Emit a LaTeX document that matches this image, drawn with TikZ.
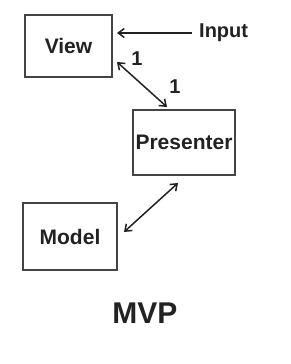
\documentclass[tikz,border=0pt]{standalone}
\usepackage{fontspec}
\setmainfont{Liberation Sans}
\usetikzlibrary{arrows.meta}
\definecolor{ink}{HTML}{222222}
\definecolor{edge}{HTML}{444444}
\tikzset{
  tipb/.tip={Straight Barb[length=6pt,width=9pt,line width=1.5pt]},
  boxnode/.style={draw=edge, line width=1.8pt, fill=white, inner sep=0pt, text=ink, font=\bfseries\fontsize{21}{24}\selectfont},
  conn/.style={draw=ink, line width=1.5pt, {tipb}-{tipb}},
  oneway/.style={draw=ink, line width=1.5pt, -{tipb}},
  lbl/.style={text=ink, font=\bfseries\fontsize{20}{22}\selectfont, inner sep=0pt}
}
\begin{document}
\begin{tikzpicture}[x=1pt,y=-1pt]
\useasboundingbox (0,0) rectangle (291,364);
\node[boxnode, minimum width=87pt, minimum height=62pt] (view) at (68.5,46) {View};
\node[boxnode, minimum width=102pt, minimum height=65pt] (pres) at (184,142.5) {Presenter};
\node[boxnode, minimum width=94pt, minimum height=67pt] (model) at (70,236.5) {Model};
\node[lbl, anchor=west] (input) at (199,33) {Input};
\node[lbl] (one1) at (137,59) {1};
\node[lbl] (one2) at (175,87) {1};
\node[text=ink, font=\bfseries\fontsize{30}{34}\selectfont, inner sep=0pt] (mvp) at (145,313) {MVP};
\coordinate (in1) at (192,33);
\coordinate (in2) at (117,33);
\coordinate (vp1) at (117,62);
\coordinate (vp2) at (167,107);
\coordinate (mp1) at (124,232);
\coordinate (mp2) at (178,183);
\draw[oneway] (in1) -- (in2);
\draw[conn] (vp1) -- (vp2);
\draw[conn] (mp1) -- (mp2);
\end{tikzpicture}
\end{document}
